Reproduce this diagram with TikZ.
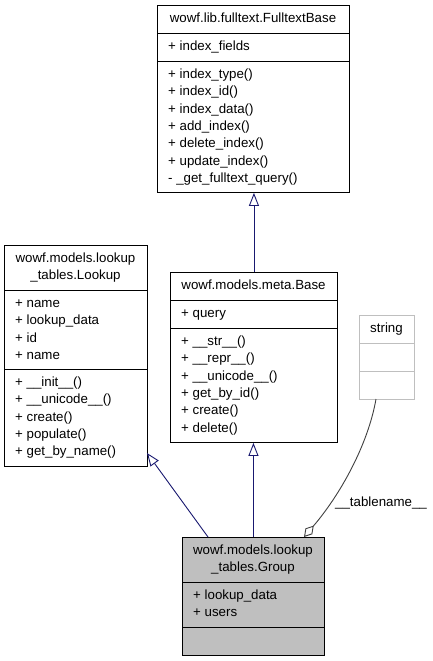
\documentclass[tikz,border=0pt]{standalone}
\usepackage{fontspec}
\setmainfont{Liberation Sans}
\usetikzlibrary{arrows.meta,calc}
\definecolor{edgeblue}{HTML}{191970}
\definecolor{aggrey}{HTML}{404040}
\definecolor{grpfill}{HTML}{BFBFBF}
\definecolor{strgrey}{HTML}{BFBFBF}
\begin{document}
\begin{tikzpicture}[x=1pt,y=-1pt,
  box/.style={draw=black, line width=0.9pt, inner sep=0pt, anchor=north west},
  sepline/.style={draw=black, line width=0.9pt},
  txt/.style={inner sep=0pt, anchor=base west, font=\fontsize{13.3}{16}\selectfont},
  ctxt/.style={txt, anchor=base},
  inh/.style={draw=edgeblue, line width=0.9pt, -{Triangle[fill=white, length=13pt, width=10pt]}},
  agg/.style={draw=aggrey, line width=0.9pt, -{Diamond[fill=white, length=15pt, width=9pt]}}]
\useasboundingbox[fill=white] (0,0) rectangle (432,661);

% FulltextBase
\node[box, minimum width=192pt, minimum height=187pt] (ft) at (157,5) {};
\draw[sepline] ($(ft.north west)+(0,28)$) -- ($(ft.north east)+(0,28)$);
\draw[sepline] ($(ft.north west)+(0,56)$) -- ($(ft.north east)+(0,56)$);
\node[ctxt] (ft-h) at (253,22.5) {wowf.lib.fulltext.FulltextBase};
\node[txt] (ft-a0) at (168,50.5) {+ index\_fields};
\foreach \t [count=\i from 0] in {+ index\_type(), + index\_id(), + index\_data(), + add\_index(), + delete\_index(), + update\_index(), - \_get\_fulltext\_query()}
  \node[txt] (ft-m\i) at (168,{78.5+17.3*\i}) {\t};

% Lookup
\node[box, minimum width=143pt, minimum height=221pt] (lk) at (4,245) {};
\draw[sepline] ($(lk.north west)+(0,45)$) -- ($(lk.north east)+(0,45)$);
\draw[sepline] ($(lk.north west)+(0,124)$) -- ($(lk.north east)+(0,124)$);
\node[ctxt] (lk-h0) at (75.5,262.5) {wowf.models.lookup};
\node[ctxt] (lk-h1) at (75.5,279.8) {\_tables.Lookup};
\foreach \t [count=\i from 0] in {+ name, + lookup\_data, + id, + name}
  \node[txt] (lk-a\i) at (15,{307.5+17.3*\i}) {\t};
\foreach \t [count=\i from 0] in {+ \_\_init\_\_(), + \_\_unicode\_\_(), + create(), + populate(), + get\_by\_name()}
  \node[txt] (lk-m\i) at (15,{386.5+17.3*\i}) {\t};

% Base
\node[box, minimum width=167pt, minimum height=170pt] (bs) at (170,272) {};
\draw[sepline] ($(bs.north west)+(0,28)$) -- ($(bs.north east)+(0,28)$);
\draw[sepline] ($(bs.north west)+(0,56)$) -- ($(bs.north east)+(0,56)$);
\node[ctxt] (bs-h) at (253.5,289.5) {wowf.models.meta.Base};
\node[txt] (bs-a0) at (181,317.5) {+ query};
\foreach \t [count=\i from 0] in {+ \_\_str\_\_(), + \_\_repr\_\_(), + \_\_unicode\_\_(), + get\_by\_id(), + create(), + delete()}
  \node[txt] (bs-m\i) at (181,{345.5+17.3*\i}) {\t};

% string
\node[box, draw=strgrey, minimum width=55pt, minimum height=84pt] (st) at (359,315) {};
\draw[sepline, draw=strgrey] ($(st.north west)+(0,28)$) -- ($(st.north east)+(0,28)$);
\draw[sepline, draw=strgrey] ($(st.north west)+(0,56)$) -- ($(st.north east)+(0,56)$);
\node[ctxt] (st-h) at (386.5,332.5) {string};

% Group
\node[box, fill=grpfill, minimum width=142pt, minimum height=118pt] (gp) at (182,537) {};
\draw[sepline] ($(gp.north west)+(0,45)$) -- ($(gp.north east)+(0,45)$);
\draw[sepline] ($(gp.north west)+(0,90)$) -- ($(gp.north east)+(0,90)$);
\node[ctxt] (gp-h0) at (253,554.5) {wowf.models.lookup};
\node[ctxt] (gp-h1) at (253,571.8) {\_tables.Group};
\node[txt] (gp-a0) at (193,599.5) {+ lookup\_data};
\node[txt] (gp-a1) at (193,616.8) {+ users};

% connectors
\coordinate (g-l) at (208,537);
\coordinate (lk-in) at (147,453);
\draw[inh] (g-l) -- (lk-in);
\draw[inh] (gp.north) -- (gp.north |- bs.south);
\draw[inh] (bs.north) -- (bs.north |- ft.south);
\coordinate (st-out) at (376,399);
\coordinate (g-a) at (304,537);
\draw[agg] (st-out) .. controls (368,445) and (340,495) .. (g-a);
\node[ctxt] (tn) at (381,506.5) {\_\_tablename\_\_};
\end{tikzpicture}
\end{document}
